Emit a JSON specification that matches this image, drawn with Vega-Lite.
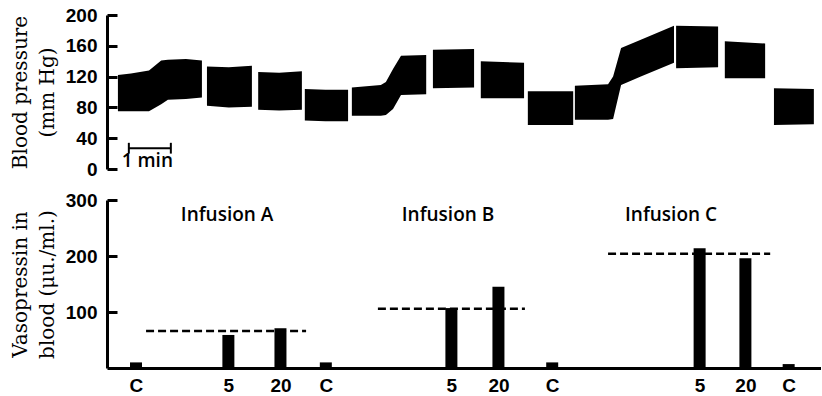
{
  "$schema": "https://vega.github.io/schema/vega-lite/v6.json",
  "padding": {"left": 10, "top": 6, "right": 0, "bottom": 0},
  "spacing": 12,
  "config": {
    "view": {"stroke": null},
    "axis": {
      "grid": false,
      "domainColor": "black",
      "domainWidth": 3,
      "tickColor": "black",
      "tickWidth": 3,
      "labelColor": "black",
      "labelFont": "Liberation Sans",
      "labelFontWeight": "bold",
      "labelFontSize": 19,
      "labelOverlap": false,
      "titleColor": "black",
      "titleFont": "DejaVu Serif",
      "titleFontWeight": "normal",
      "titleFontSize": 20,
      "titleLineHeight": 27
    }
  },
  "vconcat": [
    {
      "width": 714,
      "height": 154,
      "layer": [
        {
          "data": {"values": [
            {"seg": 1, "t": 0.26, "low": 75, "high": 122},
            {"seg": 1, "t": 0.57, "low": 75, "high": 124},
            {"seg": 1, "t": 1.0, "low": 75, "high": 128},
            {"seg": 1, "t": 1.29, "low": 84, "high": 141},
            {"seg": 1, "t": 1.45, "low": 90, "high": 142},
            {"seg": 1, "t": 1.88, "low": 91, "high": 143},
            {"seg": 1, "t": 2.26, "low": 93, "high": 141},
            {"seg": 2, "t": 2.38, "low": 82, "high": 133},
            {"seg": 2, "t": 2.9, "low": 80, "high": 132},
            {"seg": 2, "t": 3.45, "low": 81, "high": 134},
            {"seg": 3, "t": 3.6, "low": 77, "high": 126},
            {"seg": 3, "t": 4.1, "low": 76, "high": 125},
            {"seg": 3, "t": 4.64, "low": 77, "high": 127},
            {"seg": 4, "t": 4.71, "low": 63, "high": 104},
            {"seg": 4, "t": 5.2, "low": 62, "high": 103},
            {"seg": 4, "t": 5.74, "low": 62, "high": 103},
            {"seg": 5, "t": 5.83, "low": 69, "high": 106},
            {"seg": 5, "t": 6.52, "low": 69, "high": 109},
            {"seg": 5, "t": 6.64, "low": 70, "high": 113},
            {"seg": 5, "t": 6.81, "low": 78, "high": 130},
            {"seg": 5, "t": 7.0, "low": 96, "high": 147},
            {"seg": 5, "t": 7.6, "low": 97, "high": 148},
            {"seg": 6, "t": 7.76, "low": 105, "high": 155},
            {"seg": 6, "t": 8.74, "low": 106, "high": 156},
            {"seg": 7, "t": 8.9, "low": 92, "high": 140},
            {"seg": 7, "t": 9.93, "low": 92, "high": 138},
            {"seg": 8, "t": 10.02, "low": 57, "high": 101},
            {"seg": 8, "t": 11.1, "low": 57, "high": 101},
            {"seg": 9, "t": 11.14, "low": 64, "high": 108},
            {"seg": 9, "t": 11.93, "low": 64, "high": 110},
            {"seg": 9, "t": 12.05, "low": 65, "high": 120},
            {"seg": 9, "t": 12.24, "low": 109, "high": 157},
            {"seg": 9, "t": 12.71, "low": 120, "high": 168},
            {"seg": 9, "t": 13.5, "low": 138, "high": 186},
            {"seg": 10, "t": 13.55, "low": 131, "high": 186},
            {"seg": 10, "t": 14.55, "low": 132, "high": 185},
            {"seg": 11, "t": 14.71, "low": 118, "high": 166},
            {"seg": 11, "t": 15.67, "low": 118, "high": 163},
            {"seg": 12, "t": 15.88, "low": 57, "high": 105},
            {"seg": 12, "t": 16.83, "low": 58, "high": 104}
          ]},
          "mark": {"type": "area", "color": "black"},
          "encoding": {
            "x": {"field": "t", "type": "quantitative", "scale": {"domain": [0, 17], "nice": false, "zero": false, "padding": 0}, "axis": null},
            "y": {"field": "high", "type": "quantitative", "scale": {"domain": [0, 200], "nice": false},
              "axis": {"title": ["Blood pressure", "(mm Hg)"], "values": [0, 40, 80, 120, 160, 200], "tickCount": 12, "labelOverlap": false, "tickSize": -10, "labelPadding": 20, "titlePadding": 8}},
            "y2": {"field": "low"},
            "detail": {"field": "seg"}
          }
        },
        {
          "data": {"values": [{"t0": 0.52, "t1": 1.52, "v": 27}]},
          "mark": {"type": "rule", "color": "black", "strokeWidth": 2},
          "encoding": {
            "x": {"field": "t0", "type": "quantitative"},
            "x2": {"field": "t1"},
            "y": {"field": "v", "type": "quantitative"}
          }
        },
        {
          "data": {"values": [{"t": 0.52, "v0": 20, "v1": 34}, {"t": 1.52, "v0": 20, "v1": 34}]},
          "mark": {"type": "rule", "color": "black", "strokeWidth": 2},
          "encoding": {
            "x": {"field": "t", "type": "quantitative"},
            "y": {"field": "v0", "type": "quantitative"},
            "y2": {"field": "v1"}
          }
        },
        {
          "data": {"values": [{"t": 0.96, "v": 10, "label": "1 min"}]},
          "mark": {"type": "text", "font": "Open Sans", "fontWeight": 600, "fontSize": 19, "color": "black", "baseline": "middle"},
          "encoding": {
            "x": {"field": "t", "type": "quantitative"},
            "y": {"field": "v", "type": "quantitative"},
            "text": {"field": "label"}
          }
        }
      ]
    },
    {
      "width": 714,
      "height": 168,
      "layer": [
        {
          "data": {"values": [
            {"t": 0.69, "sample": "C", "vasopressin": 10},
            {"t": 2.89, "sample": "5", "vasopressin": 59},
            {"t": 4.13, "sample": "20", "vasopressin": 71},
            {"t": 5.21, "sample": "C", "vasopressin": 10},
            {"t": 8.2, "sample": "5", "vasopressin": 107},
            {"t": 9.32, "sample": "20", "vasopressin": 145},
            {"t": 10.6, "sample": "C", "vasopressin": 10},
            {"t": 14.11, "sample": "5", "vasopressin": 214},
            {"t": 15.2, "sample": "20", "vasopressin": 196},
            {"t": 16.23, "sample": "C", "vasopressin": 7}
          ]},
          "mark": {"type": "bar", "color": "black", "size": 12},
          "encoding": {
            "x": {"field": "t", "type": "quantitative", "scale": {"domain": [0, 17], "nice": false, "zero": false, "padding": 0},
              "axis": {"title": null, "ticks": false, "labelPadding": 8, "tickCount": 20, "values": [0.69, 2.89, 4.13, 5.21, 8.2, 9.32, 10.6, 14.11, 15.2, 16.23],
                "labelExpr": "indexof([0.69, 5.21, 10.6, 16.23], datum.value) >= 0 ? 'C' : (indexof([2.89, 8.2, 14.11], datum.value) >= 0 ? '5' : '20')"}},
            "y": {"field": "vasopressin", "type": "quantitative", "scale": {"domain": [0, 300], "nice": false},
              "axis": {"title": ["Vasopressin in", "blood (μu./ml.)"], "values": [100, 200, 300], "tickCount": 10, "labelOverlap": false, "tickSize": -10, "labelPadding": 20, "titlePadding": 8}}
          }
        },
        {
          "data": {"values": [
            {"t0": 0.93, "t1": 4.74, "mean": 66},
            {"t0": 6.45, "t1": 9.95, "mean": 106},
            {"t0": 11.93, "t1": 15.79, "mean": 204}
          ]},
          "mark": {"type": "rule", "color": "black", "strokeWidth": 2.5, "strokeDash": [8, 4]},
          "encoding": {
            "x": {"field": "t0", "type": "quantitative"},
            "x2": {"field": "t1"},
            "y": {"field": "mean", "type": "quantitative"}
          }
        },
        {
          "data": {"values": [
            {"t": 2.86, "v": 273, "label": "Infusion A"},
            {"t": 8.12, "v": 273, "label": "Infusion B"},
            {"t": 13.43, "v": 273, "label": "Infusion C"}
          ]},
          "mark": {"type": "text", "font": "Open Sans", "fontWeight": 600, "fontSize": 19, "color": "black", "baseline": "middle"},
          "encoding": {
            "x": {"field": "t", "type": "quantitative"},
            "y": {"field": "v", "type": "quantitative"},
            "text": {"field": "label"}
          }
        }
      ]
    }
  ]
}
